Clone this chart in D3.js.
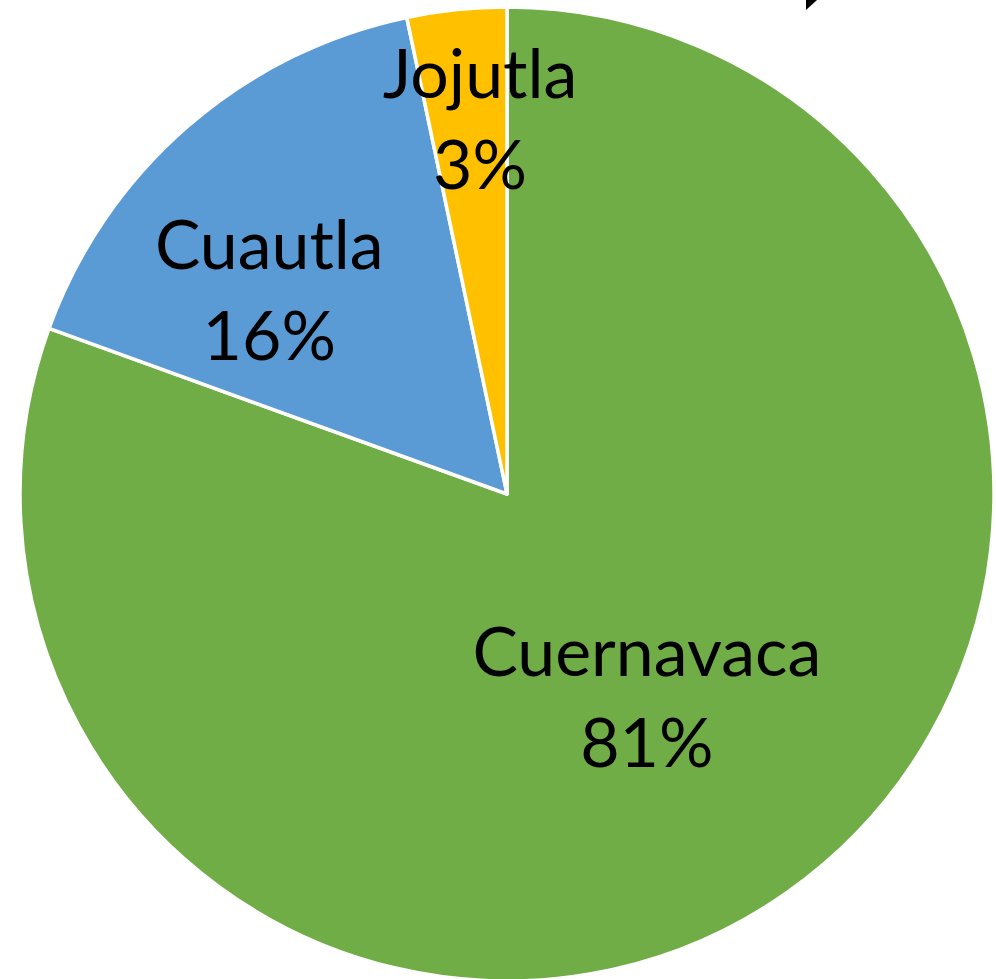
<!DOCTYPE html>
<html>
<head>
<meta charset="utf-8">
<script src="https://cdn.jsdelivr.net/npm/d3@7"></script>
<style>
  body { margin: 0; background: #fff; }
  svg { display: block; }
</style>
</head>
<body>
<script>
// chart data
var cities = ["Cuernavaca", "Cuautla", "Jojutla"];
var shares = [80.52, 16.18, 3.3];
var colors = ["#70AD47", "#5B9BD5", "#FFC000"];

// label nudges (excel best-fit placement)
var labelNudge = [[-21, -39], [-54, -6], [2, -110]];

window.onload = function(){
    var w = 996, h = 979;
    var cx = 507, cy = 494, r = 487;

    var svg = d3.select("body")
      .append("svg")
      .attr("width", w)
      .attr("height", h);

    var data = cities.map(function(c, i){
        return {name: c, value: shares[i], color: colors[i], nudge: labelNudge[i]};
    });

    var pie = d3.pie()
      .sort(null)
      .value(function(d){ return d.value; });

    var arc = d3.arc().innerRadius(0).outerRadius(r);
    var labelArc = d3.arc().innerRadius(280).outerRadius(280);

    var g = svg.append("g")
      .attr("transform", "translate(" + cx + "," + cy + ")");

    var slices = pie(data);

    g.selectAll("path")
      .data(slices)
      .enter()
      .append("path")
      .attr("d", arc)
      .attr("fill", function(d){ return d.data.color; })
      .attr("stroke", "#fff")
      .attr("stroke-width", 3.5)
      .attr("stroke-linejoin", "round");

    var total = d3.sum(shares);

    var labels = g.selectAll("text.lbl")
      .data(slices)
      .enter()
      .append("text")
      .attr("class", "lbl")
      .attr("text-anchor", "middle")
      .attr("font-family", "Lato, 'Open Sans', sans-serif")
      .attr("font-size", 68)
      .attr("fill", "#000")
      .attr("transform", function(d){
          var c = labelArc.centroid(d);
          return "translate(" + (c[0] + d.data.nudge[0]) + "," + (c[1] + d.data.nudge[1]) + ")";
      });

    labels.append("tspan")
      .attr("x", 0)
      .attr("y", -8)
      .text(function(d){ return d.data.name; });

    labels.append("tspan")
      .attr("x", 0)
      .attr("y", 83)
      .text(function(d){ return Math.round(d.data.value / total * 100) + "%"; });

    // bit of an arrow poking in at the top
    svg.append("path")
      .attr("d", "M806,0 L817,0 L806,10 Z")
      .attr("fill", "#000");
};
</script>
</body>
</html>
